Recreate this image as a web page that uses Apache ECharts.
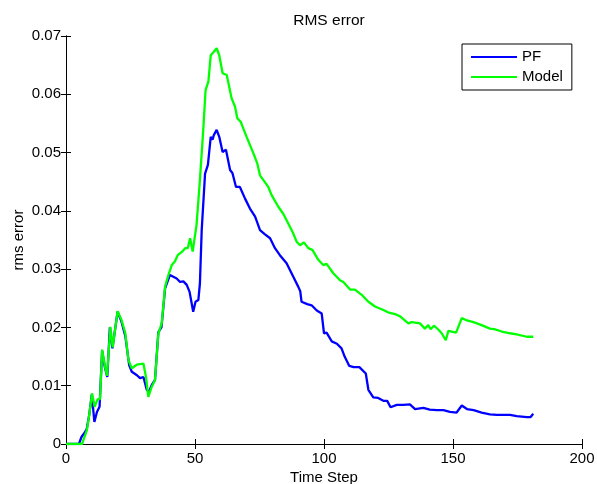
<!DOCTYPE html>
<html>
<head>
<meta charset="utf-8">
<script src="https://cdn.jsdelivr.net/npm/echarts@6/dist/echarts.min.js"></script>
<style>html,body{margin:0;padding:0;background:#fff;}#c{width:597px;height:484px;}</style>
</head>
<body>
<div id="c"></div>
<script>
const seriesNames = ['PF', 'Model'];
const pfTime = [0,5,6,7,8,9,10,11,12,13,14,15,16,17,18,20,21.5,23,24.5,25.5,27.5,28.7,30,31.3,32.2,33.2,34.5,35.8,37,38.4,40.3,41.6,42.9,44.2,45.5,46.8,47.9,49.3,50.2,51.3,51.9,52.6,53.9,55,56.1,56.8,57.3,58.4,59.4,60.7,62,63.6,64.5,65.9,67.4,69.4,71.3,73.3,75.2,77,79.1,81,82.9,85.5,88.1,90,90.8,91.3,92,93.5,95.2,97.2,99.1,100,101,103,105,106.8,108,109.8,111.5,113.7,116.2,117.2,119.1,121,123,124.5,125.8,128.2,130.7,133.3,135.3,138.5,141,143.7,146.3,148.8,151.4,153.4,155.4,158,161.1,164.3,167,172.1,174.7,178.6,180,181.1];
const pfValues = [0,0,0.0012,0.0018,0.0025,0.005,0.0085,0.0038,0.0055,0.0064,0.016,0.0133,0.0115,0.02,0.0164,0.0227,0.021,0.0185,0.0135,0.0124,0.0118,0.0113,0.0115,0.0093,0.009,0.0101,0.011,0.0192,0.02,0.0267,0.029,0.0287,0.0284,0.0278,0.0279,0.0273,0.0261,0.0227,0.0244,0.0247,0.0275,0.0367,0.0464,0.0479,0.0527,0.0522,0.053,0.0539,0.0527,0.0501,0.0505,0.047,0.0465,0.0441,0.0441,0.0421,0.0404,0.039,0.0367,0.036,0.0353,0.0336,0.0324,0.031,0.0287,0.027,0.0262,0.0244,0.0246,0.024,0.0238,0.0229,0.0224,0.019,0.0191,0.0176,0.0172,0.0164,0.015,0.0134,0.0132,0.0132,0.0121,0.0093,0.008,0.0079,0.0074,0.0074,0.0063,0.0067,0.0067,0.0068,0.006,0.0062,0.0059,0.0058,0.0058,0.0055,0.0054,0.0066,0.006,0.0058,0.0054,0.0051,0.005,0.005,0.0048,0.0046,0.0046,0.0052];
const modelTime = [0,6.2,7,8.1,9,10.1,11.1,12.3,13.2,14,15.1,15.9,17.2,18.1,20,21.5,23,24.2,25.5,27.4,30,31,31.9,33.2,34.5,35.8,37.1,38.4,39.7,41,42.2,43.3,45,46.2,47.2,48.1,49.1,50.6,51.9,53.2,54.1,55.2,56.1,56.8,57.3,58.4,59.4,60.7,62.3,64.2,65.5,66.4,67.7,70,72.6,74.1,75.2,78.4,79.7,82.3,84.2,85.5,88.1,89.4,90.7,92.2,93.9,95.5,97.8,99.7,101,103.6,106.2,107.5,110.1,112,114.6,117.2,119.8,123,124.8,127.5,129.5,132.7,134,137.2,139.1,140.4,141.3,142.6,144.4,145.6,147.2,148.2,151.2,153.4,155.4,157.9,161.1,164.3,166,168.9,172.1,174.7,178.6,181.1];
const modelValues = [0,0,0.001,0.0024,0.005,0.0087,0.0064,0.0077,0.0077,0.0162,0.0133,0.0117,0.0201,0.0166,0.0228,0.0213,0.019,0.0144,0.013,0.0136,0.0138,0.0115,0.0081,0.0098,0.011,0.019,0.0207,0.027,0.029,0.0307,0.0313,0.0324,0.033,0.0336,0.0336,0.0353,0.033,0.0376,0.0453,0.0539,0.0607,0.0622,0.0667,0.0665,0.0673,0.0679,0.0667,0.0636,0.0633,0.0593,0.0579,0.0559,0.0553,0.0527,0.0499,0.0482,0.0461,0.0441,0.0427,0.0407,0.0395,0.0384,0.0361,0.0347,0.0341,0.0346,0.0336,0.0333,0.0316,0.0307,0.0309,0.0293,0.0281,0.0278,0.0265,0.0265,0.0256,0.0244,0.0236,0.023,0.0226,0.0223,0.0219,0.0207,0.0209,0.0207,0.0198,0.0204,0.0197,0.0203,0.0196,0.019,0.0178,0.0194,0.0191,0.0216,0.0212,0.0209,0.0204,0.0198,0.0197,0.0193,0.019,0.0188,0.0184,0.0184];
const xTickLabels = ['0','50','100','150','200'];
const yTickLabels = ['0','0.01','0.02','0.03','0.04','0.05','0.06','0.07'];

const FONT = 'Liberation Sans, Arial, Helvetica, sans-serif';
const FS = 15;
const pair = (ts, vs) => ts.map((t, i) => [t, vs[i]]);
const axisLineStyle = {show: true, lineStyle: {color: '#000', width: 1}};
const tickStyle = {show: true, inside: true, length: 5, lineStyle: {color: '#000'}};

const chart = echarts.init(document.getElementById('c'), null, {renderer: 'canvas'});
chart.setOption({
  backgroundColor: '#fff',
  animation: false,
  title: {text: 'RMS error', left: 324, top: 8, textAlign: 'center',
    textStyle: {fontFamily: FONT, fontSize: 15.5, fontWeight: 'normal', color: '#000'}},
  legend: {
    data: seriesNames, orient: 'vertical', left: 462, top: 44,
    padding: [4, 9, 4, 9], itemGap: 2, itemWidth: 46, itemHeight: 2, icon: 'rect',
    borderColor: '#000', borderWidth: 1, backgroundColor: '#fff',
    textStyle: {fontFamily: FONT, fontSize: FS, color: '#000', lineHeight: 18, padding: [0, 0, 0, 0]}
  },
  grid: {left: 66, right: 15, top: 36, bottom: 40, containLabel: false, outerBoundsMode: 'none'},
  xAxis: [{
    type: 'value', min: 0, max: 200, interval: 50, position: 'bottom',
    name: 'Time Step', nameLocation: 'middle', nameGap: 26, nameMoveOverlap: false,
    nameTextStyle: {fontFamily: FONT, fontSize: FS, color: '#000'},
    axisLine: axisLineStyle, axisTick: tickStyle, splitLine: {show: false},
    axisLabel: {fontFamily: FONT, fontSize: FS, color: '#000', margin: 7,
      formatter: v => xTickLabels[Math.round(v / 50)]}
  }, {
    type: 'value', min: 0, max: 200, interval: 50, position: 'top',
    axisLine: axisLineStyle, axisTick: tickStyle, axisLabel: {show: false}, splitLine: {show: false}
  }],
  yAxis: [{
    type: 'value', min: 0, max: 0.07, interval: 0.01, position: 'left',
    name: 'rms error', nameLocation: 'middle', nameGap: 40, nameMoveOverlap: false,
    nameTextStyle: {fontFamily: FONT, fontSize: FS, color: '#000'},
    axisLine: axisLineStyle, axisTick: tickStyle, splitLine: {show: false},
    axisLabel: {fontFamily: FONT, fontSize: FS, color: '#000', margin: 5,
      formatter: v => yTickLabels[Math.round(v / 0.01)]}
  }, {
    type: 'value', min: 0, max: 0.07, interval: 0.01, position: 'right',
    axisLine: axisLineStyle, axisTick: tickStyle, axisLabel: {show: false}, splitLine: {show: false}
  }],
  series: [{
    name: 'PF', type: 'line', data: pair(pfTime, pfValues), showSymbol: false, symbol: 'none',
    lineStyle: {color: '#0000ff', width: 2.3}, itemStyle: {color: '#0000ff'}, z: 3
  }, {
    name: 'Model', type: 'line', data: pair(modelTime, modelValues), showSymbol: false, symbol: 'none',
    lineStyle: {color: '#00ff00', width: 2.3}, itemStyle: {color: '#00ff00'}, z: 4
  }]
});
</script>
</body>
</html>
